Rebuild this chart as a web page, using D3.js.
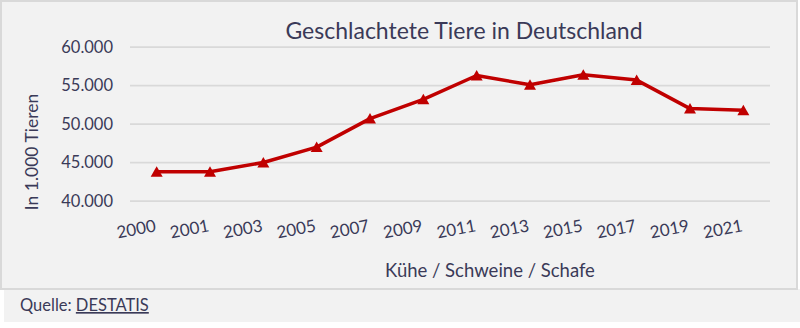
<!DOCTYPE html>
<html><head><meta charset="utf-8">
<script src="https://cdn.jsdelivr.net/npm/d3@7/dist/d3.min.js"></script>
<style>
html,body{margin:0;padding:0;background:#ffffff;}
svg{display:block;font-family:Lato,"Open Sans",sans-serif;}
</style></head>
<body>
<svg id="chart" width="800" height="328"></svg>
<script>
const categories = ["2000","2001","2003","2005","2007","2009","2011","2013","2015","2017","2019","2021"];
const values = [43800,43800,45000,47000,50700,53200,56300,55100,56400,55700,52000,51800];
const yTicks = [40000,45000,50000,55000,60000];
const titleText = "Geschlachtete Tiere in Deutschland";
const yTitle = "In 1.000 Tieren";
const xTitle = "Kühe / Schweine / Schafe";

const textColor = "#3a3a58";
const lineColor = "#c00000";
const svg = d3.select("#chart");

// source strip
svg.append("rect").attr("x",4).attr("y",289).attr("width",796).attr("height",33).attr("fill","#f2f2f2");
// chart frame
svg.append("rect").attr("x",1).attr("y",1).attr("width",796).attr("height",288)
  .attr("fill","#f2f2f2").attr("stroke","#d9d9d9").attr("stroke-width",2);

const x = d3.scaleBand().domain(categories).range([130,770]).padding(0);
const y = d3.scaleLinear().domain([40000,60000]).range([201,47]);
const loc = d3.formatLocale({decimal:",",thousands:".",grouping:[3],currency:["","€"]});
const fmt = loc.format(",.0f");

// gridlines
svg.append("g").selectAll("line").data(yTicks).join("line")
  .attr("x1",130).attr("x2",770)
  .attr("y1",d=>y(d)).attr("y2",d=>y(d))
  .attr("stroke","#d9d9d9").attr("stroke-width",1.75);

// y axis labels
const yAxis = d3.axisLeft(y).tickValues(yTicks).tickFormat(fmt).tickSize(0).tickPadding(0);
const gy = svg.append("g").attr("transform","translate(113,0)").call(yAxis);
gy.select(".domain").remove();
gy.selectAll("text").attr("fill",textColor).style("font-size","16.5px").style("font-family","Lato");

// x axis labels
const xAxis = d3.axisBottom(x).tickSize(0).tickPadding(0);
const gx = svg.append("g").attr("transform","translate(0,201)").call(xAxis);
gx.select(".domain").remove();
gx.selectAll("text")
  .attr("fill",textColor).style("font-size","17px").style("font-family","Lato")
  .attr("text-anchor","end").attr("dy",0).attr("y",0)
  .attr("transform","translate(0,30) rotate(-11)");

// line
const cx = d=>x(d)+x.bandwidth()/2;
const line = d3.line().x((d,i)=>cx(categories[i])).y(d=>y(d));
svg.append("path").datum(values).attr("d",line)
  .attr("fill","none").attr("stroke",lineColor).attr("stroke-width",3.5)
  .attr("stroke-linejoin","round");

// markers
const tri = "M0,-5.5L6,5L-6,5Z";
svg.append("g").selectAll("path").data(values).join("path")
  .attr("d",tri)
  .attr("transform",(d,i)=>`translate(${cx(categories[i])},${y(d)})`)
  .attr("fill",lineColor);

// title
svg.append("text").attr("x",464).attr("y",39).attr("text-anchor","middle")
  .attr("fill",textColor).style("font-size","23px").text(titleText);

// y title
svg.append("text").attr("transform","translate(38,152) rotate(-90)")
  .attr("text-anchor","middle").attr("fill",textColor).style("font-size","17.5px").text(yTitle);

// x title
svg.append("text").attr("x",490).attr("y",277).attr("text-anchor","middle")
  .attr("fill",textColor).style("font-size","18.5px").text(xTitle);

// source
const src = svg.append("text").attr("x",20).attr("y",311).attr("fill",textColor).style("font-size","16.5px");
src.append("tspan").text("Quelle: ");
src.append("tspan").attr("text-decoration","underline").text("DESTATIS");
</script>
</body></html>
